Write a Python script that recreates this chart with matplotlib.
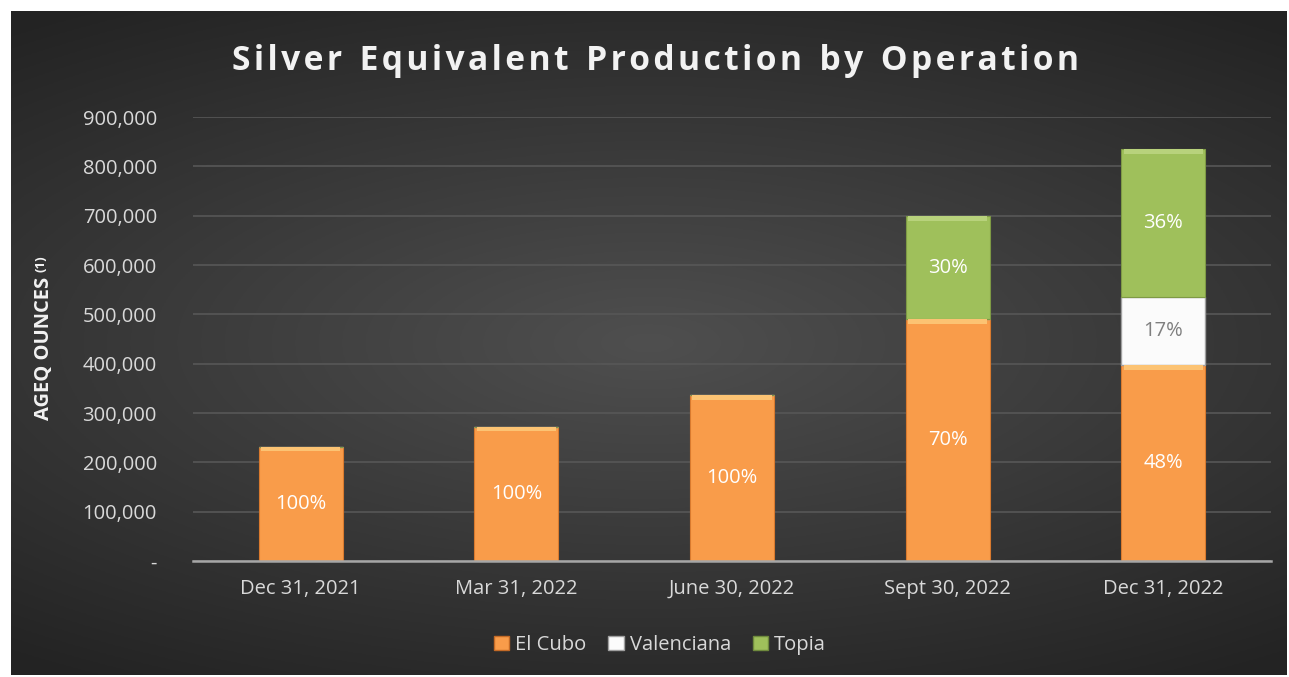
import matplotlib
matplotlib.use("Agg")
import matplotlib.pyplot as plt
import numpy as np
from matplotlib.ticker import FuncFormatter
from matplotlib.patches import Patch

# data
quarters = ["Dec 31, 2021", "Mar 31, 2022", "June 30, 2022", "Sept 30, 2022", "Dec 31, 2022"]
el_cubo = [232000, 272000, 336000, 490000, 397000]
valenciana = [0, 0, 0, 0, 138000]
topia = [0, 0, 0, 209000, 300000]
pct_el_cubo = ["100%", "100%", "100%", "70%", "48%"]
pct_valenciana = ["", "", "", "", "17%"]
pct_topia = ["", "", "", "30%", "36%"]

plt.rcParams['font.family'] = ['Open Sans', 'DejaVu Sans']

W, H = 1289, 677
fig = plt.figure(figsize=(W / 100, H / 100), dpi=100)
fig.patch.set_facecolor("white")

# dark radial gradient panel
bg = fig.add_axes([11 / W, 2 / H, 1276 / W, 664 / H])
yy, xx = np.mgrid[-1:1:300j, -1:1:600j]
r = np.sqrt(xx ** 2 + (yy / 0.75) ** 2)
r = np.clip(r / 1.6, 0, 1)
shade = 0.31 - 0.17 * r
bg.imshow(np.dstack([shade, shade, shade]), aspect="auto", extent=[0, 1, 0, 1])
bg.axis("off")

ax = fig.add_axes([193 / W, 1 - 561 / H, 1078 / W, (561 - 117) / H])
ax.set_facecolor("none")

x = np.arange(len(quarters))
bw = 0.39
orange, orange_hi = "#f99c4a", "#fcc373"
white = "#fbfbfb"
green, green_hi = "#9fc05b", "#b8d27c"

bottoms2 = np.array(el_cubo)
bottoms3 = bottoms2 + np.array(valenciana)
hi = 9000

ax.bar(x, el_cubo, bw, color=orange, edgecolor="#d97a2e", linewidth=0.8, zorder=3)
ax.bar(x, [hi if v else 0 for v in el_cubo], bw * 0.94,
       bottom=np.array(el_cubo) - hi, color=orange_hi, linewidth=0, zorder=4)
ax.bar(x, valenciana, bw, bottom=bottoms2, color=white, edgecolor="#a0a0a0",
       linewidth=1.0, zorder=3)
ax.bar(x, topia, bw, bottom=bottoms3, color=green, edgecolor="#7e9a45",
       linewidth=0.8, zorder=3)
ax.bar(x, [hi if v else 0 for v in topia], bw * 0.94,
       bottom=bottoms3 + np.array(topia) - hi, color=green_hi, linewidth=0, zorder=4)

for i in range(len(quarters)):
    ax.text(x[i], el_cubo[i] / 2, pct_el_cubo[i], ha="center", va="center",
            color="white", fontsize=14.5, zorder=5)
    if valenciana[i]:
        ax.text(x[i], bottoms2[i] + valenciana[i] / 2, pct_valenciana[i], ha="center",
                va="center", color="#7f7f7f", fontsize=14.5, zorder=5)
    if topia[i]:
        ax.text(x[i], bottoms3[i] + topia[i] / 2, pct_topia[i], ha="center",
                va="center", color="white", fontsize=14.5, zorder=5)

ax.set_xlim(-0.5, len(quarters) - 0.5)
ax.set_ylim(0, 900000)
ax.set_yticks(np.arange(0, 900001, 100000))
ax.yaxis.set_major_formatter(FuncFormatter(lambda v, p: "-" if v == 0 else f"{int(v):,}"))
ax.set_xticks(x)
ax.set_xticklabels(quarters)
ax.tick_params(axis="both", length=0, colors="#d9d9d9", labelsize=14.5)
ax.tick_params(axis="y", pad=26)
ax.tick_params(axis="x", pad=13)
ax.grid(axis="y", color="#575757", linewidth=1.2, zorder=0)
for s in ["top", "right", "left"]:
    ax.spines[s].set_visible(False)
ax.spines["bottom"].set_color("#a6a6a6")
ax.spines["bottom"].set_linewidth(1.8)
ax.spines["bottom"].set_zorder(6)

fig.text(44 / W, 1 - 348 / H, "AGEQ OUNCES", rotation=90, ha="center",
         va="center", color="#f2f2f2", fontsize=14.5, fontweight="bold")
fig.text(41 / W, 1 - 264 / H, "(1)", rotation=90, ha="center",
         va="center", color="#f2f2f2", fontsize=9.5, fontweight="bold")

title = "Silver Equivalent Production by Operation"
spaced = "  ".join("\u200a".join(w) for w in title.split(" "))
fig.text(655 / W, 1 - 61 / H, spaced, ha="center", va="center",
         color="#f2f2f2", fontsize=24.2, fontweight="bold")

handles = [Patch(facecolor=orange, edgecolor="#c46a26"),
           Patch(facecolor=white, edgecolor="#a0a0a0"),
           Patch(facecolor=green, edgecolor="#6f8a3d")]
leg = fig.legend(handles, ["El Cubo", "Valenciana", "Topia"], loc="center",
                 bbox_to_anchor=(660 / W, 1 - 645 / H), ncol=3, frameon=False,
                 fontsize=14.5, handlelength=0.75, handleheight=0.75,
                 handletextpad=0.3, columnspacing=1.1)
for t in leg.get_texts():
    t.set_color("#d9d9d9")

fig.savefig("out.png", dpi=100, facecolor=fig.get_facecolor())
